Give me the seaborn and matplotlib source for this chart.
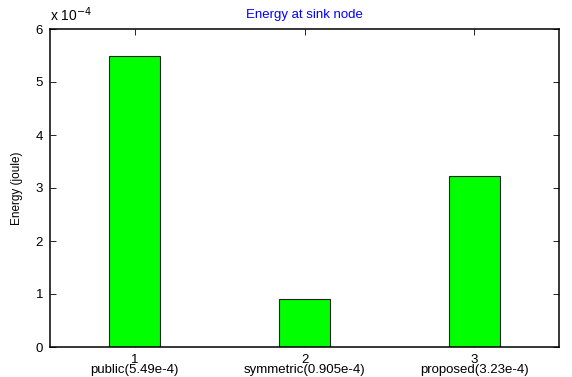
import matplotlib
matplotlib.use("Agg")
import matplotlib.pyplot as plt
import seaborn as sns
import pandas as pd

categories = ["public", "symmetric", "proposed"]
value_labels = ["5.49e-4", "0.905e-4", "3.23e-4"]
energy_e4 = [5.49, 0.905, 3.23]  # in units of 1e-4 joule
y_ticks = [0, 1, 2, 3, 4, 5, 6]

sns.set_style("white")
plt.rcParams['font.family'] = ['Liberation Sans', 'DejaVu Sans']
plt.rcParams['text.color'] = 'black'
plt.rcParams['axes.labelcolor'] = 'black'
plt.rcParams['xtick.color'] = 'black'
plt.rcParams['ytick.color'] = 'black'

df = pd.DataFrame({"cat": categories, "energy": energy_e4})

fig = plt.figure(figsize=(5.72, 3.77), dpi=100)
ax = fig.add_axes([50/572, 30/377, 509/572, 318/377])

sns.barplot(data=df, x="cat", y="energy", ax=ax, color="#00ff00",
            saturation=1, width=0.3, edgecolor="#222222", linewidth=0.8)

ax.set_xlim(-0.5, 2.5)
ax.set_ylim(0, 6)
ax.set_yticks(y_ticks)
ax.set_yticklabels([str(t) for t in y_ticks], fontsize=9.5)
ax.set_xticks(range(len(categories)))
ax.set_xticklabels([f"{i+1}\n{c}({v})" for i, (c, v) in enumerate(zip(categories, value_labels))],
                   fontsize=9.5, linespacing=0.8)
ax.set_xlabel("")
ax.set_ylabel("Energy (joule)", fontsize=8.5, labelpad=9)
ax.set_title("Energy at sink node", fontsize=9.5, color="#0000ff", pad=8)

ax.tick_params(direction="in", top=True, right=True, bottom=True, left=True,
               length=4, width=0.6, color="black", labelcolor="black")
ax.tick_params(axis="y", pad=5)
ax.tick_params(axis="x", pad=5)
for s in ax.spines.values():
    s.set_visible(True)
    s.set_color("black")
    s.set_linewidth(1.1)

ax.text(0.0, 1.015, r"x 10$^{-4}$", transform=ax.transAxes, fontsize=10,
        ha="left", va="bottom", color="black")

fig.savefig("out.png", dpi=100)
